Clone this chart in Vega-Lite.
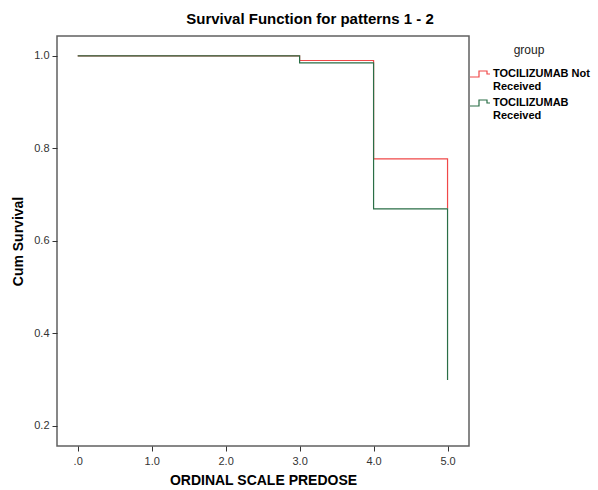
{
  "$schema": "https://vega.github.io/schema/vega-lite/v6.json",
  "width": 412,
  "height": 410,
  "autosize": {"type": "none"},
  "padding": {"left": 57, "top": 36, "right": 129, "bottom": 44},
  "background": "white",
  "config": {
    "font": "Liberation Sans",
    "view": {"stroke": "#606060", "strokeWidth": 1.5},
    "axis": {"grid": false, "domain": false, "tickColor": "#333", "tickSize": 5, "labelColor": "#333", "labelFontSize": 11, "titleFontSize": 14, "titleFontWeight": "bold", "titleColor": "#000"}
  },
  "title": {"text": "Survival Function for patterns 1 - 2", "fontSize": 15, "fontWeight": "bold", "color": "#000", "anchor": "middle", "dx": 47, "offset": 9},
  "data": {"values": [
    {"time": 0, "surv": 1.0, "group": "TOCILIZUMAB Not Received"},
    {"time": 3, "surv": 0.99, "group": "TOCILIZUMAB Not Received"},
    {"time": 4, "surv": 0.777, "group": "TOCILIZUMAB Not Received"},
    {"time": 5, "surv": 0.67, "group": "TOCILIZUMAB Not Received"},
    {"time": 0, "surv": 1.0, "group": "TOCILIZUMAB Received"},
    {"time": 3, "surv": 0.985, "group": "TOCILIZUMAB Received"},
    {"time": 4, "surv": 0.669, "group": "TOCILIZUMAB Received"},
    {"time": 5, "surv": 0.299, "group": "TOCILIZUMAB Received"}
  ]},
  "mark": {"type": "line", "interpolate": "step-after", "strokeWidth": 1.2},
  "encoding": {
    "x": {"field": "time", "type": "quantitative", "scale": {"domain": [-0.28, 5.29], "nice": false, "zero": false},
      "axis": {"values": [0, 1, 2, 3, 4, 5], "labelExpr": "datum.value == 0 ? '.0' : format(datum.value, '.1f')", "title": "ORDINAL SCALE PREDOSE", "titlePadding": 7, "labelPadding": 4}},
    "y": {"field": "surv", "type": "quantitative", "scale": {"domain": [0.156, 1.043], "nice": false, "zero": false},
      "axis": {"values": [0.2, 0.4, 0.6, 0.8, 1.0], "format": ".1f", "title": "Cum Survival", "titlePadding": 8, "labelPadding": 3}},
    "color": {"field": "group", "type": "nominal",
      "scale": {"domain": ["TOCILIZUMAB Not Received", "TOCILIZUMAB Received"], "range": ["#f04848", "#2a6e46"]},
      "legend": {"title": "group", "orient": "none", "legendX": 412, "legendY": 9, "titleFontSize": 12, "titleFontWeight": "normal", "titleColor": "#222", "titleAnchor": "middle", "titlePadding": 6,
        "labelFontSize": 11, "labelFontWeight": "bold", "labelColor": "#000", "labelOffset": 2, "labelLimit": 120,
        "labelExpr": "datum.label == 'TOCILIZUMAB Not Received' ? ['TOCILIZUMAB Not', 'Received'] : ['TOCILIZUMAB', 'Received']",
        "symbolType": "M-1,0.3H-0.1V-0.3H0.7V0H1", "symbolSize": 400, "symbolStrokeWidth": 1.2, "rowPadding": 0}}
  }
}
